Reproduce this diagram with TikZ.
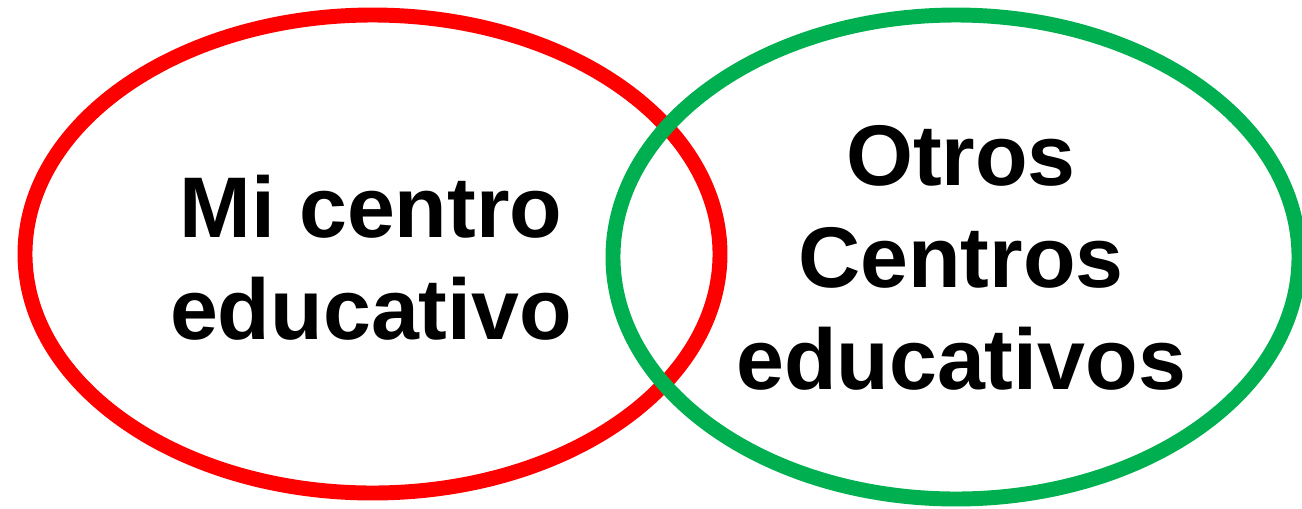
\documentclass[tikz,border=0pt]{standalone}
\usepackage{fontspec}
\setmainfont{Liberation Sans}
\usepackage{tikz}
\definecolor{myred}{RGB}{255,0,0}
\definecolor{mygreen}{RGB}{0,176,80}
\tikzset{
  ring/.style={line width=8.5pt},
  label/.style={align=center,font=\fontsize{49}{58}\selectfont\bfseries}
}

\begin{document}
\begin{tikzpicture}[x=0.02cm,y=-0.02cm]
            \useasboundingbox (0,0) rectangle (1302,508);
            \draw[ring,myred](372.5,254) ellipse [x radius=347.5, y radius=239];
            \draw[ring,mygreen](956,257) ellipse [x radius=343, y radius=242];
            \node[label] (mine) at (371,258) {Mi centro\\educativo};
            \node[label] (others) at (961,258) {Otros\\Centros\\educativos};
        \end{tikzpicture}
\end{document}
